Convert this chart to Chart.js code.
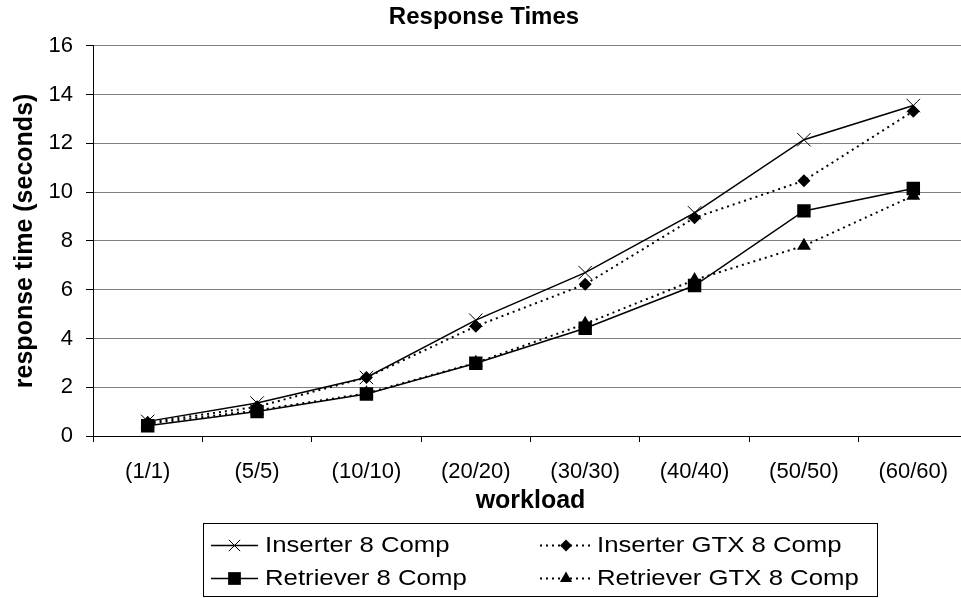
<!DOCTYPE html>
<html>
<head>
<meta charset="utf-8">
<script src="https://cdn.jsdelivr.net/npm/chart.js@4/dist/chart.umd.min.js"></script>
<style>
html,body{margin:0;padding:0;background:#fff;overflow:hidden;}
#wrap{width:961px;height:598px;overflow:hidden;position:relative;}
canvas{display:block;}
</style>
</head>
<body>
<div id="wrap"><canvas id="c" width="969" height="598"></canvas></div>
<script>
const categories = ['(1/1)','(5/5)','(10/10)','(20/20)','(30/30)','(40/40)','(50/50)','(60/60)'];
const inserter8 = [0.6, 1.35, 2.4, 4.75, 6.7, 9.15, 12.15, 13.55];
const inserterGTX8 = [0.55, 1.2, 2.4, 4.5, 6.22, 8.95, 10.47, 13.32];
const retriever8 = [0.42, 1.0, 1.72, 2.98, 4.42, 6.17, 9.23, 10.15];
const retrieverGTX8 = [0.5, 1.05, 1.75, 3.0, 4.6, 6.4, 7.8, 9.85];
const seriesNames = ['Inserter 8 Comp','Inserter GTX 8 Comp','Retriever 8 Comp','Retriever GTX 8 Comp'];
const yTicks = [0,2,4,6,8,10,12,14,16];

Chart.defaults.font.family = "'Liberation Sans', Arial, Helvetica, sans-serif";
Chart.defaults.color = '#000';

function drawMarker(ctx, style, r, x, y) {
  ctx.save();
  ctx.fillStyle = '#000';
  ctx.strokeStyle = '#000';
  ctx.lineWidth = 1;
  ctx.setLineDash([]);
  ctx.beginPath();
  if (style === 'crossRot') {
    const d = r * Math.SQRT1_2;
    ctx.moveTo(x - d, y - d); ctx.lineTo(x + d, y + d);
    ctx.moveTo(x - d, y + d); ctx.lineTo(x + d, y - d);
    ctx.stroke();
  } else if (style === 'rectRot') {
    ctx.moveTo(x - r, y); ctx.lineTo(x, y - r); ctx.lineTo(x + r, y); ctx.lineTo(x, y + r);
    ctx.closePath(); ctx.fill();
  } else if (style === 'rect') {
    const s = r * Math.SQRT1_2;
    ctx.rect(x - s, y - s, 2 * s, 2 * s); ctx.fill();
  } else if (style === 'triangle') {
    const a = 2 * Math.PI / 3;
    ctx.moveTo(x, y - r);
    ctx.lineTo(x + Math.sin(a) * r, y - Math.cos(a) * r);
    ctx.lineTo(x - Math.sin(a) * r, y - Math.cos(a) * r);
    ctx.closePath(); ctx.fill();
  }
  ctx.restore();
}

const legendBox = {
  id: 'legendBox',
  afterDraw(chart) {
    const ctx = chart.ctx;
    ctx.save();
    ctx.strokeStyle = '#000';
    ctx.lineWidth = 1;
    ctx.strokeRect(203.5, 523.5, 674, 73);
    const cols = [{x0: 211, x1: 258, tx: 265}, {x0: 540, x1: 592, tx: 597}];
    const rows = [545, 578];
    [0, 1, 2, 3].forEach((di, k) => {
      const ds = chart.data.datasets[di];
      const col = cols[k % 2];
      const y = rows[Math.floor(k / 2)];
      ctx.save();
      ctx.strokeStyle = '#000';
      ctx.lineWidth = ds.borderWidth;
      ctx.setLineDash(ds.borderDash || []);
      ctx.beginPath();
      ctx.moveTo(col.x0, y + 0.5);
      ctx.lineTo(col.x1, y + 0.5);
      ctx.stroke();
      ctx.restore();
      drawMarker(ctx, ds.pointStyle, ds.legendRadius, (col.x0 + col.x1) / 2, y + 0.5);
      ctx.save();
      ctx.fillStyle = '#000';
      ctx.font = "22px 'Liberation Sans', Arial, sans-serif";
      ctx.textBaseline = 'middle';
      ctx.textAlign = 'left';
      ctx.translate(col.tx, y);
      ctx.scale(1.17, 1);
      ctx.fillText(ds.label, 0, 1);
      ctx.restore();
    });
    ctx.restore();
  }
};

new Chart(document.getElementById('c'), {
  type: 'line',
  data: {
    labels: categories,
    datasets: [
      {label: seriesNames[0], data: inserter8, borderColor: '#000', backgroundColor: '#000', borderWidth: 1.5,
       pointStyle: 'crossRot', pointRadius: 9.5, pointBorderWidth: 1, legendRadius: 8, tension: 0},
      {label: seriesNames[1], data: inserterGTX8, borderColor: '#000', backgroundColor: '#000', borderWidth: 2, borderDash: [2, 4],
       pointStyle: 'rectRot', pointRadius: 6.5, pointBorderWidth: 0, legendRadius: 6, tension: 0},
      {label: seriesNames[2], data: retriever8, borderColor: '#000', backgroundColor: '#000', borderWidth: 1.5,
       pointStyle: 'rect', pointRadius: 9.5, pointBorderWidth: 0, legendRadius: 9, tension: 0},
      {label: seriesNames[3], data: retrieverGTX8, borderColor: '#000', backgroundColor: '#000', borderWidth: 2, borderDash: [2, 4],
       pointStyle: 'triangle', pointRadius: 8, pointBorderWidth: 0, legendRadius: 7, tension: 0}
    ]
  },
  options: {
    responsive: false,
    animation: false,
    layout: {autoPadding: false, padding: {left: 0, right: 1, top: 0, bottom: 82}},
    plugins: {
      legend: {display: false},
      tooltip: {enabled: false},
      title: {display: true, text: 'Response Times', font: {size: 24, weight: 'bold'}, color: '#000', padding: {top: 3, bottom: 14}}
    },
    scales: {
      x: {
        type: 'category', offset: true,
        grid: {display: true, drawOnChartArea: false, drawTicks: true, tickLength: 6, offset: true, color: '#000', tickColor: '#000'},
        border: {display: true, color: '#000', width: 1},
        ticks: {font: {size: 22}, color: '#000', padding: 17, maxRotation: 0, autoSkip: false},
        title: {display: true, text: 'workload', font: {size: 25, weight: 'bold'}, color: '#000', padding: {top: 0, bottom: 0}},
        afterFit(scale) { scale.height = 80; scale.paddingLeft = 0; scale.paddingRight = 0; }
      },
      y: {
        min: 0, max: 16,
        afterBuildTicks(scale) { scale.ticks = yTicks.map(v => ({value: v})); },
        grid: {color: '#808080', lineWidth: 1, tickLength: 7, tickColor: '#000'},
        border: {display: true, color: '#000', width: 1},
        ticks: {font: {size: 22}, color: '#000', padding: 13},
        title: {display: true, text: 'response time (seconds)', font: {size: 25, weight: 'bold'}, color: '#000', padding: {top: 10, bottom: 0}},
        afterFit(scale) { scale.width = 93; scale.paddingLeft = 0; scale.paddingRight = 0; }
      }
    }
  },
  plugins: [legendBox]
});
</script>
</body>
</html>
